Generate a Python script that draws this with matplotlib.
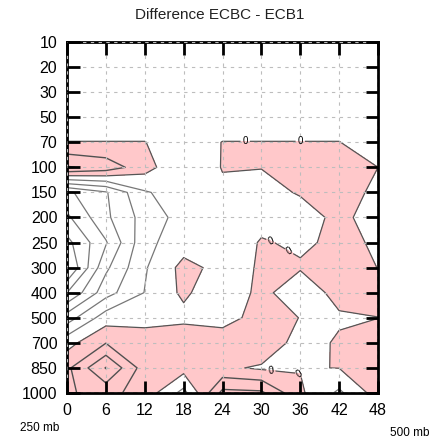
import matplotlib
matplotlib.use('Agg')
import matplotlib.pyplot as plt
import numpy as np

plt.rcParams['font.family'] = ['Liberation Sans', 'DejaVu Sans']

# pressure levels (top to bottom) and forecast hours
pressures = ['10', '20', '30', '50', '70', '100', '150', '200', '250', '300',
             '400', '500', '700', '850', '1000']
hours = [0, 6, 12, 18, 24, 30, 36, 42, 48]

# difference ECBC - ECB1 at each level, one value per hour
d10 = [-0.5, -0.5, -0.5, -0.5, -0.5, -0.5, -0.5, -0.5, -0.5]
d20 = [-0.5, -0.5, -0.5, -0.5, -0.5, -0.5, -0.5, -0.5, -0.5]
d30 = [-0.5, -0.5, -0.5, -0.5, -0.5, -0.5, -0.5, -0.5, -0.5]
d50 = [-0.5, -0.5, -0.5, -0.5, -0.5, -0.5, -0.5, -0.5, -0.5]
d70 = [0.02, 0.02, 0.02, -0.5, 0.02, 0.02, 0.02, 0.02, -0.5]
d100 = [2.1, 1.6, 0.4, -0.9, 0.05, 0.03, 0.3, 0.5, 0.0]
d150 = [-4.2, -3.1, -1.1, -0.5, -0.2, -0.4, 0.1, 0.5, -0.25]
d200 = [-5.2, -3.2, -1.6, -0.6, -0.5, -0.28, -0.53, 0.3, -0.53]
d250 = [-6.3, -4.1, -1.27, -0.45, -0.6, 0.07, -0.14, 0.18, -0.09]
d300 = [-7.1, -3.2, -1.1, 0.3, -0.3, 0.07, 0.09, 0.3, -0.01]
d400 = [-5.0, -2.4, -0.97, 0.2, -0.8, 0.3, -0.68, 0.38, 0.3]
d500 = [-2.5, -0.47, -0.4, -0.3, -0.4, 0.4, -0.02, -0.15, -0.01]
d700 = [-0.36, 0.97, 0.6, 0.9, 0.6, 0.9, -0.5, 0.15, 0.4]
d850 = [0.77, 3.05, 0.5, 0.4, 0.2, -0.15, -0.05, 0.016, 0.5]
d1000 = [0.9, 1.3, 0.6, -1.34, 2.3, 2.2, 0.17, -1.2, 0.47]

Z = np.array([d10, d20, d30, d50, d70, d100, d150, d200, d250, d300,
              d400, d500, d700, d850, d1000])
X, Y = np.meshgrid(hours, np.arange(len(pressures)))

fig = plt.figure(figsize=(4.39, 4.42), dpi=100)
ax = fig.add_axes([0.1526, 0.1109, 0.7085, 0.7941])

# positive differences shaded
ax.contourf(X, Y, Z, levels=[0, 100], colors=['#ffc8ca'], zorder=1)
ax.contour(X, Y, Z, levels=[-7, -6, -5, -4, -3, -2, -1], colors='#777777',
           linewidths=0.9, linestyles='solid', zorder=2)
ax.contour(X, Y, Z, levels=[1, 2, 3], colors='#505050', linewidths=1.0, zorder=2)
cs0 = ax.contour(X, Y, Z, levels=[0], colors='#555555', linewidths=0.9, zorder=2)
ax.clabel(cs0, fmt='%d', fontsize=7, colors='black', inline=True, inline_spacing=2,
          manual=[(27.5, 4.0), (36, 4.0), (31.5, 7.9), (34.4, 8.3), (31.5, 13.0), (36, 13.0)])

ax.set_xlim(0, 48)
ax.set_ylim(len(pressures) - 1, 0)
ax.set_xticks(hours)
ax.set_yticks(np.arange(len(pressures)))
ax.set_yticklabels(pressures)

ax.grid(True, linestyle=(0, (3, 4)), color='#bdbdbd', linewidth=0.8)
ax.set_axisbelow(False)
ax.tick_params(direction='in', length=9, width=2, top=True, right=True,
               labelsize=11.5, pad=7)
for s in ax.spines.values():
    s.set_linewidth(2)

fig.text(0.5, 1 - 15 / 442, 'Difference ECBC - ECB1', ha='center', va='center',
         fontsize=11, color='#222222')
fig.text(40 / 439, 1 - 428 / 442, '250 mb', ha='center', va='center', fontsize=8.5)
fig.text(410 / 439, 1 - 433 / 442, '500 mb', ha='center', va='center', fontsize=8.5)

fig.savefig('out.png', dpi=100)
